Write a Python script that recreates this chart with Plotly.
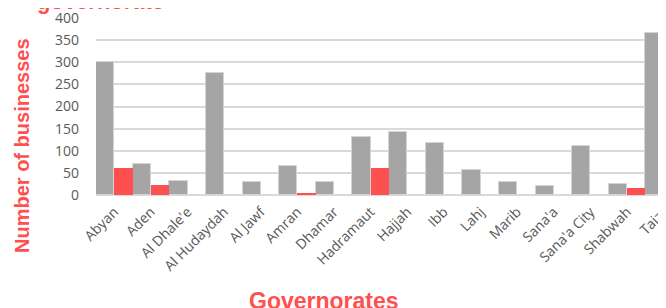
import plotly.graph_objects as go

categories = ["Abyan", "Aden", "Al Dhale'e", "Al Hudaydah", "Al Jawf", "Amran",
              "Dhamar", "Hadramaut", "Hajjah", "Ibb", "Lahj", "Marib", "Sana'a",
              "Sana'a City", "Shabwah", "Taizz"]
series_gray = [300, 70, 32, 276, 29, 65, 29, 130, 143, 118, 56, 29, 20, 111, 25, 367]
series_red = [60, 22, 0, 0, 0, 4, 0, 60, 0, 0, 0, 0, 0, 0, 16, 2]
y_ticks = [0, 50, 100, 150, 200, 250, 300, 350, 400]

GRAY = "#a5a5a5"
RED = "#ff5050"
TITLE_RED = "#ff5050"
TICK = "#595959"

fig = go.Figure()
fig.add_trace(go.Bar(x=categories, y=series_gray, name="Businesses",
                     marker=dict(color=GRAY, line=dict(color="#d4d4d4", width=1))))
fig.add_trace(go.Bar(x=categories, y=series_red, name="Affected",
                     marker=dict(color=RED, line=dict(color="#ffb0b0", width=0))))

fig.update_layout(
    width=658, height=300,
    margin=dict(l=88, r=0, t=10, b=113, autoexpand=False),
    barmode="group", bargap=0, bargroupgap=0,
    plot_bgcolor="white", paper_bgcolor="white",
    showlegend=False,
    font=dict(family="Open Sans", color=TICK, size=13),
    xaxis=dict(
        range=[-0.5, 15.063], tickangle=-45, showgrid=False, automargin=False,
        tickfont=dict(family="Open Sans", size=14, color=TICK),
        ticklabelstandoff=5, ticklabeloverflow="allow",
        showline=False, ticks="",
    ),
    yaxis=dict(
        range=[0, 400], tickvals=y_ticks, showgrid=True, gridcolor="#d9d9d9",
        gridwidth=1.5, zeroline=True, zerolinecolor="#d9d9d9", zerolinewidth=1.5,
        tickfont=dict(family="Open Sans", size=14, color=TICK), automargin=False,
        ticklabelstandoff=16, ticklabeloverflow="allow", showline=False, ticks="",
    ),
    annotations=[
        dict(text="governorate", xref="paper", yref="paper", x=0.0085, y=1.011,
             xanchor="center", yanchor="bottom", showarrow=False,
             font=dict(family="Liberation Sans", size=22, color=TITLE_RED, weight="bold")),
        dict(text="Number of businesses", xref="paper", yref="paper", x=-0.13, y=0.282,
             xanchor="center", yanchor="middle", textangle=-90, showarrow=False,
             font=dict(family="Liberation Sans", size=20, color=TITLE_RED, weight="bold")),
        dict(text="Governorates", xref="paper", yref="paper", x=0.4, y=-0.514,
             xanchor="center", yanchor="top", showarrow=False,
             font=dict(family="Liberation Sans", size=23, color=TITLE_RED, weight="bold")),
    ],
)

fig.write_html("out.html")
